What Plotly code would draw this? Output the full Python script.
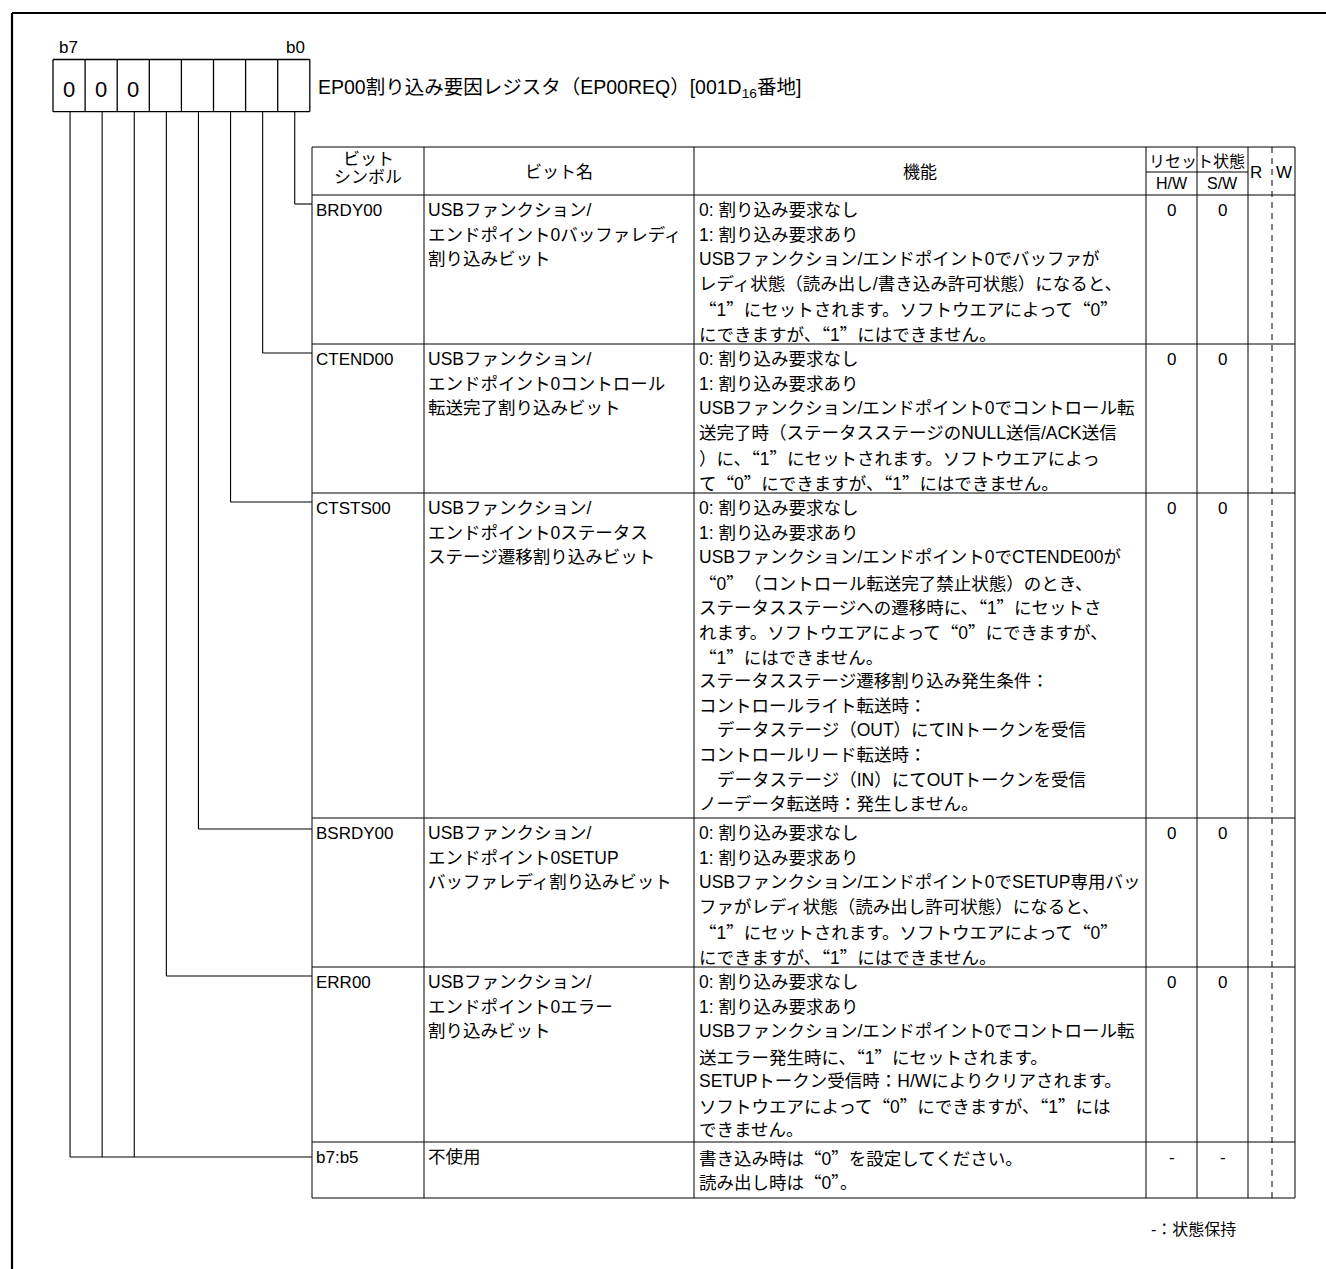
import plotly.graph_objects as go

# ---------------- data ----------------
bit_end_labels = ["b7", "b0"]
register_values = ["0", "0", "0", "", "", "", "", ""]  # b7 ... b0
register_title = "EP00割り込み要因レジスタ（EP00REQ）[001D<sub>16</sub>番地]"

header_symbol = ["ビット", "シンボル"]
header_name = "ビット名"
header_function = "機能"
header_reset = "リセット状態"
header_hw = "H/W"
header_sw = "S/W"
header_r = "R"
header_w = "W"

bit_symbols = ["BRDY00", "CTEND00", "CTSTS00", "BSRDY00", "ERR00", "b7:b5"]
bit_numbers = [[0], [1], [2], [3], [4], [7, 6, 5]]

bit_names = [
    ["USBファンクション/", "エンドポイント0バッファレディ", "割り込みビット"],
    ["USBファンクション/", "エンドポイント0コントロール", "転送完了割り込みビット"],
    ["USBファンクション/", "エンドポイント0ステータス", "ステージ遷移割り込みビット"],
    ["USBファンクション/", "エンドポイント0SETUP", "バッファレディ割り込みビット"],
    ["USBファンクション/", "エンドポイント0エラー", "割り込みビット"],
    ["不使用"],
]

# (indent flag, text)
functions = [
    [(0, "0: 割り込み要求なし"),
     (0, "1: 割り込み要求あり"),
     (0, "USBファンクション/エンドポイント0でバッファが"),
     (0, "レディ状態（読み出し/書き込み許可状態）になると、"),
     (0, "“1”にセットされます。ソフトウエアによって“0”"),
     (0, "にできますが、“1”にはできません。")],
    [(0, "0: 割り込み要求なし"),
     (0, "1: 割り込み要求あり"),
     (0, "USBファンクション/エンドポイント0でコントロール転"),
     (0, "送完了時（ステータスステージのNULL送信/ACK送信"),
     (0, "）に、“1”にセットされます。ソフトウエアによっ"),
     (0, "て“0”にできますが、“1”にはできません。")],
    [(0, "0: 割り込み要求なし"),
     (0, "1: 割り込み要求あり"),
     (0, "USBファンクション/エンドポイント0でCTENDE00が"),
     (0, "“0”（コントロール転送完了禁止状態）のとき、"),
     (0, "ステータスステージへの遷移時に、“1”にセットさ"),
     (0, "れます。ソフトウエアによって“0”にできますが、"),
     (0, "“1”にはできません。"),
     (0, "ステータスステージ遷移割り込み発生条件："),
     (0, "コントロールライト転送時："),
     (1, "データステージ（OUT）にてINトークンを受信"),
     (0, "コントロールリード転送時："),
     (1, "データステージ（IN）にてOUTトークンを受信"),
     (0, "ノーデータ転送時：発生しません。")],
    [(0, "0: 割り込み要求なし"),
     (0, "1: 割り込み要求あり"),
     (0, "USBファンクション/エンドポイント0でSETUP専用バッ"),
     (0, "ファがレディ状態（読み出し許可状態）になると、"),
     (0, "“1”にセットされます。ソフトウエアによって“0”"),
     (0, "にできますが、“1”にはできません。")],
    [(0, "0: 割り込み要求なし"),
     (0, "1: 割り込み要求あり"),
     (0, "USBファンクション/エンドポイント0でコントロール転"),
     (0, "送エラー発生時に、“1”にセットされます。"),
     (0, "SETUPトークン受信時：H/Wによりクリアされます。"),
     (0, "ソフトウエアによって“0”にできますが、“1”には"),
     (0, "できません。")],
    [(0, "書き込み時は“0”を設定してください。"),
     (0, "読み出し時は“0”。")],
]

reset_hw = ["0", "0", "0", "0", "0", "-"]
reset_sw = ["0", "0", "0", "0", "0", "-"]

footnote = "-：状態保持"

# ---------------- layout geometry ----------------
W, H = 1326, 1269
FONT = "Liberation Sans, Arial, Noto Sans CJK JP, sans-serif"
QFONT = "Noto Sans CJK SC"
LINE = "#000000"

reg_x0, reg_cell, reg_y0, reg_y1 = 53.0, 32.1, 59.5, 111.7
col_x = [312, 424, 694, 1146, 1197, 1248, 1295]
dash_x = 1272
head_top, head_mid, head_bot = 147, 172, 195
row_bounds = [195, 344, 493, 818, 967, 1142, 1198]
connector_off = [9, 9, 9, 11, 9, 15]
line_pitch = 24.7
first_line_off = 15
BODY = 17.5

shapes = []
annotations = []


def line(x0, y0, x1, y1, width=1.0, dash=None, color=LINE):
    d = dict(type="line", xref="x", yref="y", x0=x0, y0=y0, x1=x1, y1=y1,
             line=dict(color=color, width=width))
    if dash:
        d["line"]["dash"] = dash
    shapes.append(d)


def q(s):
    # render curly quotes as full-width CJK glyphs, like the reference
    for ch in ("“", "”"):
        s = s.replace(ch, "<span style=\"font-family:'%s'\">%s</span>" % (QFONT, ch))
    return s


def txt(x, y, s, size=18, xanchor="left", yanchor="middle", xshift=0):
    annotations.append(dict(x=x, y=y, xref="x", yref="y", text=q(s), showarrow=False,
                            xanchor=xanchor, yanchor=yanchor, borderpad=0, xshift=xshift,
                            font=dict(size=size, family=FONT, color="#000000")))


# outer frame (top and left)
line(12, 13, W + 5, 13, width=2.2)
line(12, 13, 12, H + 5, width=2.2)

# register boxes
for i in range(9):
    x = reg_x0 + i * reg_cell
    line(x, reg_y0, x, reg_y1, width=1.3)
line(reg_x0, reg_y0, reg_x0 + 8 * reg_cell, reg_y0, width=1.3)
line(reg_x0, reg_y1, reg_x0 + 8 * reg_cell, reg_y1, width=1.3)
for i, v in enumerate(register_values):
    if v:
        txt(reg_x0 + (i + 0.5) * reg_cell, 89, v, size=22, xanchor="center")
txt(68, 47, bit_end_labels[0], size=17, xanchor="center")
txt(295, 47, bit_end_labels[1], size=17, xanchor="center")
txt(317, 88, register_title, size=19.5)


def bit_x(b):
    return reg_x0 + (7 - b + 0.5) * reg_cell + 1


# connectors
for r, bits in enumerate(bit_numbers):
    cy = row_bounds[r] + connector_off[r]
    xs = [bit_x(b) for b in bits]
    for x in xs:
        line(x, reg_y1, x, cy, width=1.1)
    line(min(xs), cy, col_x[0], cy, width=1.1)

# table grid
line(col_x[0], head_top, col_x[-1], head_top)
for y in row_bounds:
    line(col_x[0], y, col_x[-1], y)
for x in col_x:
    line(x, head_top, x, row_bounds[-1])
line(col_x[3], head_mid, col_x[5], head_mid)
line(dash_x, head_top, dash_x, row_bounds[-1], dash="6px,5px")

# header text
txt((col_x[0] + col_x[1]) / 2, 159, header_symbol[0], size=17, xanchor="center")
txt((col_x[0] + col_x[1]) / 2, 177, header_symbol[1], size=17, xanchor="center")
txt((col_x[1] + col_x[2]) / 2, 172, header_name, size=17, xanchor="center")
txt((col_x[2] + col_x[3]) / 2, 172, header_function, size=17, xanchor="center")
txt((col_x[3] + col_x[5]) / 2, 161, header_reset, size=16, xanchor="center")
txt((col_x[3] + col_x[4]) / 2, 183, header_hw, size=16, xanchor="center")
txt((col_x[4] + col_x[5]) / 2, 183, header_sw, size=16, xanchor="center")
txt(1256, 172, header_r, size=17, xanchor="center")
txt(1284, 172, header_w, size=17, xanchor="center")

# rows
for r in range(len(bit_symbols)):
    top = row_bounds[r]
    y0 = top + first_line_off
    txt(col_x[0] + 3, y0, bit_symbols[r], size=17)
    for i, s in enumerate(bit_names[r]):
        txt(col_x[1] + 3, y0 + i * line_pitch, s, size=BODY)
    for i, (ind, s) in enumerate(functions[r]):
        txt(col_x[2] + 4, y0 + i * line_pitch, s, size=BODY, xshift=ind * 18)
    txt((col_x[3] + col_x[4]) / 2, y0, reset_hw[r], size=17, xanchor="center")
    txt((col_x[4] + col_x[5]) / 2, y0, reset_sw[r], size=17, xanchor="center")

txt(1237, 1229, footnote, size=16, xanchor="right")

fig = go.Figure()
fig.update_layout(
    width=W, height=H,
    margin=dict(l=0, r=0, t=0, b=0),
    paper_bgcolor="white", plot_bgcolor="white",
    xaxis=dict(range=[0, W], visible=False, fixedrange=True),
    yaxis=dict(range=[H, 0], visible=False, fixedrange=True),
    shapes=shapes, annotations=annotations, showlegend=False,
)
fig.write_html("out.html", config={"displayModeBar": False},
               post_script="document.body.style.margin='0';document.body.style.overflow='hidden';")
